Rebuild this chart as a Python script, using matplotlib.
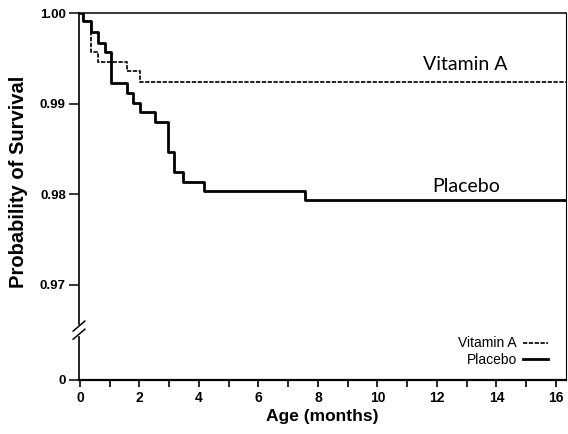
import matplotlib
matplotlib.use('Agg')
from matplotlib import pyplot as plt
from matplotlib.ticker import MultipleLocator
import matplotlib.transforms as mtransforms

plt.rcParams['font.family'] = ['Liberation Sans', 'DejaVu Sans']

# Kaplan-Meier curves (months, survival probability)
vita_t = [0, 0.11, 0.36, 0.62, 1.57, 2.02, 16.4]
vita_s = [1.0, 0.99917, 0.99569, 0.99458, 0.99359, 0.99237, 0.99237]

plac_t = [0, 0.11, 0.37, 0.61, 0.84, 1.06, 1.57, 1.77, 2.02, 2.54, 2.95,
          3.18, 3.46, 4.16, 7.56, 16.4]
plac_s = [1.0, 0.99917, 0.99787, 0.99673, 0.99569, 0.99230, 0.99120,
          0.99009, 0.98905, 0.98793, 0.98464, 0.98248, 0.98137, 0.98034,
          0.97932, 0.97932]

# broken y axis: "0" sits just below 0.97
y_zero_pos = 0.9595
y_ticks = [y_zero_pos, 0.97, 0.98, 0.99, 1.00]
y_tick_labels = ['0', '0.97', '0.98', '0.99', '1.00']
x_ticks = [0, 2, 4, 6, 8, 10, 12, 14, 16]

fig = plt.figure(figsize=(5.68, 4.34), dpi=100)
ax = fig.add_axes([79 / 568, 1 - 380 / 434, 487 / 568, 367 / 434])

ax.step(vita_t, vita_s, where='post', color='#222222', lw=1.4,
        linestyle=(0, (2.2, 0.8)), label='Vitamin A')
ax.step(plac_t, plac_s, where='post', color='black', lw=2.0,
        label='Placebo')

ax.set_xlim(-0.03, 16.34)
ax.set_ylim(y_zero_pos, 1.0)

ax.xaxis.set_major_locator(MultipleLocator(2))
ax.xaxis.set_minor_locator(MultipleLocator(1))
ax.set_xticks(x_ticks)
ax.set_xticklabels([str(v) for v in x_ticks])
ax.set_yticks(y_ticks)
ax.set_yticklabels(y_tick_labels)

ax.tick_params(axis='x', which='both', direction='out', length=5, width=1.2,
               pad=3, labelsize=10)
ax.tick_params(axis='y', direction='out', length=7.5, width=1.1, pad=2,
               labelsize=9.5)
for lab in ax.get_xticklabels() + ax.get_yticklabels():
    lab.set_fontweight('bold')

for side, w in [('left', 1.2), ('bottom', 1.6), ('top', 1.1), ('right', 0.8)]:
    ax.spines[side].set_linewidth(w)

# break marks on the y axis
trans = mtransforms.blended_transform_factory(ax.transAxes, ax.transData)
brk = 0.9650
ax.plot([0, 0], [brk - 0.0004, brk + 0.0004], color='white', lw=3,
        transform=trans, clip_on=False, zorder=5)
for dy in (-0.00045, 0.00045):
    ax.plot([-0.012, 0.012], [brk + dy - 0.00055, brk + dy + 0.00055],
            color='black', lw=1.1, transform=trans, clip_on=False, zorder=6)

ax.set_xlabel('Age (months)', fontsize=12.5, fontweight='bold')
ax.xaxis.set_label_coords(0.5, -0.08)
ax.xaxis.label.set_va('top')
ax.set_ylabel('Probability of Survival', fontsize=14.5, fontweight='bold')
ax.yaxis.set_label_coords(-0.105, 0.54)

ax.text(12.97, 0.99433, 'Vitamin A', fontsize=14, family=['Lato', 'DejaVu Sans'],
        ha='center', va='center')
ax.text(12.97, 0.98082, 'Placebo', fontsize=14, family=['Lato', 'DejaVu Sans'],
        ha='center', va='center')

ax.legend(loc='lower right', bbox_to_anchor=(0.963, 0.035), frameon=False,
          markerfirst=False, handlelength=1.8, handletextpad=0.45,
          labelspacing=0.2, borderpad=0, borderaxespad=0,
          prop={'family': ['Liberation Sans Narrow', 'Liberation Sans'],
                'size': 10})

plt.savefig('out.png', dpi=100)
